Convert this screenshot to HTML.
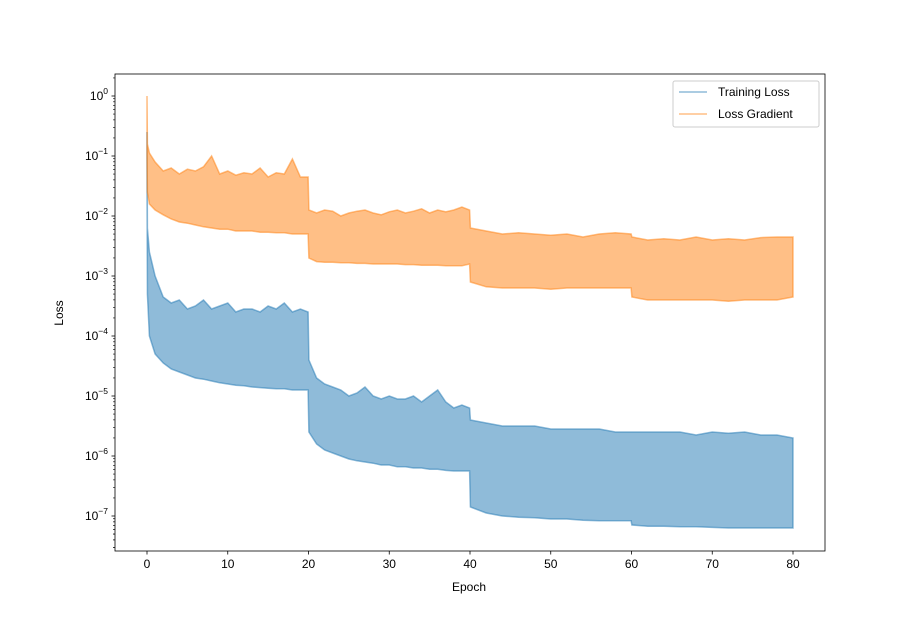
<!DOCTYPE html>
<html><head><meta charset="utf-8"><style>
body{margin:0;background:#fff}
svg text{font-family:"Liberation Sans","DejaVu Sans",sans-serif;font-size:12px;fill:#000}
</style></head><body>
<svg id="chart" width="917" height="619" viewBox="0 0 917 619" xmlns="http://www.w3.org/2000/svg">
<rect width="917" height="619" fill="#fff"/>
<g id="plot"></g>
<g id="axes"></g>
</svg>
<script>
const epochs=[0,0.05,0.3,1,2,3,4,5,6,7,8,9,10,11,12,13,14,15,16,17,18,19,19.95,20.05,21,22,23,24,25,26,27,28,29,30,31,32,33,34,35,36,37,38,39,39.95,40.05,42,44,46,48,50,52,54,56,58,59.95,60.05,62,64,66,68,70,72,74,76,78,80];
const gradUpperLog=[0,-0.8,-0.95,-1.1,-1.25,-1.2,-1.3,-1.22,-1.25,-1.18,-1.0,-1.3,-1.25,-1.32,-1.28,-1.3,-1.2,-1.35,-1.28,-1.3,-1.05,-1.35,-1.35,-1.9,-1.95,-1.9,-1.92,-2.0,-1.95,-1.92,-1.9,-1.95,-1.98,-1.93,-1.9,-1.95,-1.92,-1.88,-1.95,-1.9,-1.93,-1.9,-1.85,-1.9,-2.2,-2.25,-2.3,-2.28,-2.3,-2.32,-2.3,-2.35,-2.3,-2.28,-2.3,-2.35,-2.4,-2.38,-2.4,-2.35,-2.4,-2.38,-2.4,-2.36,-2.35,-2.35];
const gradLowerLog=[-1.0,-1.6,-1.8,-1.9,-1.98,-2.05,-2.1,-2.12,-2.15,-2.18,-2.2,-2.22,-2.22,-2.25,-2.25,-2.25,-2.27,-2.27,-2.28,-2.28,-2.3,-2.3,-2.3,-2.7,-2.76,-2.77,-2.77,-2.78,-2.78,-2.79,-2.79,-2.8,-2.8,-2.8,-2.8,-2.81,-2.81,-2.82,-2.82,-2.82,-2.83,-2.83,-2.83,-2.8,-3.1,-3.18,-3.2,-3.2,-3.2,-3.22,-3.2,-3.2,-3.2,-3.2,-3.2,-3.35,-3.4,-3.4,-3.4,-3.4,-3.4,-3.42,-3.4,-3.4,-3.4,-3.35];
const lossUpperLog=[-0.6,-2.2,-2.6,-3.0,-3.35,-3.45,-3.4,-3.55,-3.5,-3.4,-3.55,-3.5,-3.45,-3.6,-3.55,-3.55,-3.6,-3.5,-3.55,-3.45,-3.6,-3.55,-3.6,-4.4,-4.7,-4.8,-4.85,-4.9,-5.0,-4.95,-4.85,-5.0,-5.05,-5.0,-5.05,-5.05,-5.0,-5.1,-5.0,-4.9,-5.1,-5.2,-5.15,-5.2,-5.4,-5.45,-5.5,-5.5,-5.5,-5.55,-5.55,-5.55,-5.55,-5.6,-5.6,-5.6,-5.6,-5.6,-5.6,-5.65,-5.6,-5.62,-5.6,-5.65,-5.65,-5.7];
const lossLowerLog=[-1.5,-3.3,-4.0,-4.3,-4.45,-4.55,-4.6,-4.65,-4.7,-4.72,-4.75,-4.78,-4.8,-4.82,-4.83,-4.85,-4.86,-4.87,-4.88,-4.88,-4.9,-4.9,-4.9,-5.6,-5.8,-5.9,-5.95,-6.0,-6.05,-6.08,-6.1,-6.12,-6.15,-6.15,-6.18,-6.18,-6.2,-6.2,-6.22,-6.22,-6.24,-6.25,-6.25,-6.25,-6.85,-6.95,-7.0,-7.02,-7.03,-7.05,-7.05,-7.07,-7.08,-7.08,-7.08,-7.15,-7.17,-7.17,-7.18,-7.18,-7.19,-7.2,-7.2,-7.2,-7.2,-7.2];
const xTicks=[0,10,20,30,40,50,60,70,80];
const yTickExps=[0,-1,-2,-3,-4,-5,-6,-7];

const NS="http://www.w3.org/2000/svg";
const L=115,R=825,T=74,B=551;
const x=v=>147+(v/80)*(793-147);
const y=lg=>96+(0-lg)*60;
function mk(tag,attrs,parent){const e=document.createElementNS(NS,tag);for(const k in attrs)e.setAttribute(k,attrs[k]);parent.appendChild(e);return e;}
const plot=document.getElementById('plot'),axes=document.getElementById('axes');
function band(up,lo,color,name){
  let d='M'+epochs.map((e,i)=>x(e).toFixed(1)+','+y(up[i]).toFixed(1)).join(' L');
  for(let i=epochs.length-1;i>=0;i--)d+=' L'+x(epochs[i]).toFixed(1)+','+y(lo[i]).toFixed(1);
  const p=mk('path',{d:d+'Z',fill:color,'fill-opacity':0.5,stroke:color,'stroke-opacity':0.5,'stroke-width':1.5},plot);
  
  
}
band(lossUpperLog,lossLowerLog,'#1f77b4','training-loss-series');
band(gradUpperLog,gradLowerLog,'#ff7f0e','loss-gradient-series');
mk('rect',{x:L,y:T,width:R-L,height:B-T,fill:'none',stroke:'#000','stroke-width':0.8},axes);
xTicks.forEach(t=>{
  mk('line',{x1:x(t),x2:x(t),y1:B,y2:B+3.5,stroke:'#000','stroke-width':0.8},axes);
  const tx=mk('text',{x:x(t),y:B+17,'text-anchor':'middle'},axes);tx.textContent=t;
  
  
});
yTickExps.forEach(ex=>{
  const yy=y(ex);
  mk('line',{x1:L-3.5,x2:L,y1:yy,y2:yy,stroke:'#000','stroke-width':0.8},axes);
  for(let m=2;m<=9;m++){const ym=y(ex-1+Math.log10(m));if(ym>T&&ym<B)mk('line',{x1:L-2,x2:L,y1:ym,y2:ym,stroke:'#000','stroke-width':0.6},axes);}
  const tx=mk('text',{x:L-7,y:yy+4,'text-anchor':'end'},axes);
  
  
  tx.innerHTML='10<tspan dy="-6" font-size="8.5">'+(ex<0?'\u2212'+(-ex):ex)+'</tspan>';
});
// extra minor ticks below 1e-7
for(let m=2;m<=9;m++){const ym=y(-8+Math.log10(m));if(ym>T&&ym<B)mk('line',{x1:L-2,x2:L,y1:ym,y2:ym,stroke:'#000','stroke-width':0.6},axes);}
for(let m=2;m<=9;m++){const ym=y(0+Math.log10(m));if(ym>T&&ym<B)mk('line',{x1:L-2,x2:L,y1:ym,y2:ym,stroke:'#000','stroke-width':0.6},axes);}
</script>
<svg width="0" height="0"></svg>
<div></div>
<script>
const ax=document.getElementById('axes');
const NS2="http://www.w3.org/2000/svg";
function t2(txt,attrs,name){const e=document.createElementNS(NS2,'text');for(const k in attrs)e.setAttribute(k,attrs[k]);e.textContent=txt;


ax.appendChild(e);return e;}
t2('Epoch',{x:469,y:591,'text-anchor':'middle'},'x-axis-title');
t2('Loss',{x:63,y:313,'text-anchor':'middle',transform:'rotate(-90 63 313)'},'y-axis-title');
const lg=document.createElementNS(NS2,'g');


ax.appendChild(lg);
lg.innerHTML='<rect x="673" y="81" width="146" height="46" rx="2" fill="#fff" fill-opacity="0.8" stroke="#ccc"/>'+
'<line x1="679" x2="707" y1="92" y2="92" stroke="#1f77b4" stroke-opacity="0.5" stroke-width="1.5"/>'+
'<line x1="679" x2="707" y1="114" y2="114" stroke="#ff7f0e" stroke-opacity="0.5" stroke-width="1.5"/>'+
'<text x="718" y="96">Training Loss</text>'+
'<text x="718" y="118">Loss Gradient</text>';
</script>
</body></html>
